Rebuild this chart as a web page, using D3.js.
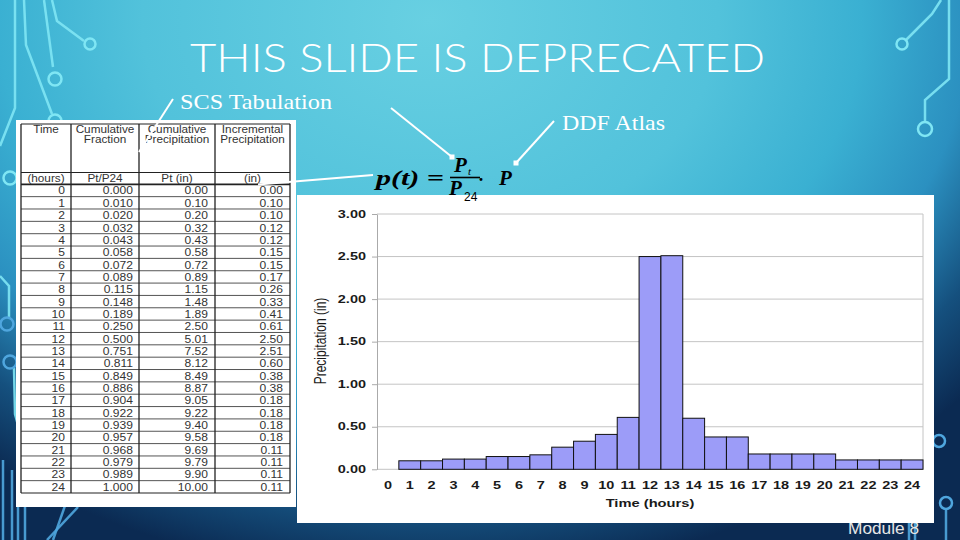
<!DOCTYPE html>
<html>
<head>
<meta charset="utf-8">
<script src="https://cdn.jsdelivr.net/npm/d3@7"></script>
<style>
body { margin: 0; background: #0b2a52; }
svg { display: block; font-family: "Liberation Sans", Arial, sans-serif; }
</style>
</head>
<body>
<div id="slide"></div>
<script>
// SCS type II tabulation, 24 hour storm
const hours = [0, 1, 2, 3, 4, 5, 6, 7, 8, 9, 10, 11, 12, 13, 14, 15, 16, 17, 18, 19, 20, 21, 22, 23, 24];
const cumFraction = [0.000, 0.010, 0.020, 0.032, 0.043, 0.058, 0.072, 0.089, 0.115, 0.148, 0.189, 0.250, 0.500,
    0.751, 0.811, 0.849, 0.886, 0.904, 0.922, 0.939, 0.957, 0.968, 0.979, 0.989, 1.000];
const cumPrecip = [0.00, 0.10, 0.20, 0.32, 0.43, 0.58, 0.72, 0.89, 1.15, 1.48, 1.89, 2.50, 5.01,
    7.52, 8.12, 8.49, 8.87, 9.05, 9.22, 9.40, 9.58, 9.69, 9.79, 9.90, 10.00];
const incPrecip = [0.00, 0.10, 0.10, 0.12, 0.12, 0.15, 0.15, 0.17, 0.26, 0.33, 0.41, 0.61, 2.50,
    2.51, 0.60, 0.38, 0.38, 0.18, 0.18, 0.18, 0.18, 0.11, 0.11, 0.11, 0.11];
const yTicks = [0.00, 0.50, 1.00, 1.50, 2.00, 2.50, 3.00];

const headerTop = [["Time"], ["Cumulative", "Fraction"], ["Cumulative", "Precipitation"], ["Incremental", "Precipitation"]];
const headerUnits = ["(hours)", "Pt/P24", "Pt (in)", "(in)"];

const width = 960, height = 540;
const serif = "'Liberation Serif', 'Times New Roman', serif";

const svg = d3.select("#slide").append("svg")
    .attr("width", width)
    .attr("height", height);

// ---- background ----
const defs = svg.append("defs");
const grad = defs.append("radialGradient")
    .attr("id", "bg")
    .attr("gradientUnits", "userSpaceOnUse")
    .attr("cx", 0).attr("cy", 0).attr("r", 1)
    .attr("gradientTransform", "translate(430,20) scale(720,560)");
[[0, "#68d0e2"], [0.4, "#52c2db"], [0.6, "#3ab0d2"], [0.75, "#2b90c0"], [0.88, "#15507e"], [1, "#0b2a52"]]
    .forEach(s => grad.append("stop").attr("offset", s[0]).attr("stop-color", s[1]));

svg.append("rect").attr("width", width).attr("height", height).attr("fill", "url(#bg)");

// circuit decoration
const deco = svg.append("g").attr("fill", "none").attr("stroke-width", 2.5);
const lightLines = [
    [[52, 0], [57, 21], [84, 41]],
    [[44, 0], [53, 67]],
    [[24, 0], [26, 45], [52, 114]],
    [[15, 0], [15, 108], [0, 146]],
    [[0, 276], [9, 286], [9, 318]],
    [[14, 368], [15, 414], [22, 440], [22, 470]],
    [[941, 0], [932, 14], [906, 40]],
    [[949, 0], [949, 79], [925, 100], [925, 122]]
];
const lightCircles = [[90, 44, 5.5], [55, 79, 6.5], [55, 121, 6.5], [10, 178, 6.5], [7, 324, 6.5], [10, 362, 6.5],
    [902, 44, 5.5], [925, 129, 7], [939, 441, 6], [946, 503, 6]];
const darkLines = [
    [[3, 460], [3, 540]], [[12, 470], [12, 540]], [[18, 480], [18, 540]], [[25, 470], [25, 540]],
    [[78, 507], [47, 540]], [[67, 500], [53, 540]],
    [[946, 509], [946, 540]], [[909, 505], [909, 540]], [[915, 505], [915, 540]]
];
const lineGen = d3.line();
deco.selectAll(".lt").data(lightLines).enter().append("path")
    .attr("d", lineGen).attr("stroke", "#7fe6f4").attr("stroke-opacity", 0.9);
deco.selectAll(".dk").data(darkLines).enter().append("path")
    .attr("d", lineGen).attr("stroke", "#4fa6de").attr("stroke-opacity", 0.9);
deco.selectAll("circle").data(lightCircles).enter().append("circle")
    .attr("cx", d => d[0]).attr("cy", d => d[1]).attr("r", d => d[2])
    .attr("stroke", d => d[1] > 300 ? "#4fa6de" : "#7fe6f4");

// helper for the horizontally stretched (resized bitmap) text
function addText(g, x, y, str, o) {
    return g.append("text")
        .attr("transform", `translate(${x},${y}) scale(${o.sx || 1},1)`)
        .attr("text-anchor", o.anchor || "start")
        .attr("font-size", o.size)
        .attr("font-weight", o.weight || "normal")
        .attr("font-style", o.style || "normal")
        .attr("font-family", o.family || null)
        .attr("fill", o.fill || "#222")
        .text(str);
}

// ---- title and captions ----
svg.append("text")
    .attr("x", 190).attr("y", 72)
    .attr("textLength", 575).attr("lengthAdjust", "spacingAndGlyphs")
    .attr("font-family", "Lato, 'Open Sans', sans-serif")
    .attr("font-weight", 300)
    .attr("font-size", 40)
    .attr("fill", "#fff")
    .text("THIS SLIDE IS DEPRECATED");

svg.append("text")
    .attr("x", 180).attr("y", 109)
    .attr("textLength", 152).attr("lengthAdjust", "spacingAndGlyphs")
    .attr("font-family", serif)
    .attr("font-size", 21).attr("fill", "#fff")
    .text("SCS Tabulation");

svg.append("text")
    .attr("x", 562).attr("y", 130)
    .attr("textLength", 103).attr("lengthAdjust", "spacingAndGlyphs")
    .attr("font-family", serif)
    .attr("font-size", 21).attr("fill", "#fff")
    .text("DDF Atlas");

// "Module 8" footer, mostly hidden by the chart panel
addText(svg, 848, 534, "Module 8", {size: 16, sx: 1.08, fill: "#e6e6e6"});

// ---- table ----
const table = svg.append("g");
table.append("rect").attr("x", 16).attr("y", 120).attr("width", 280).attr("height", 387).attr("fill", "#fff");

const colEdges = [21, 71, 139, 215, 290];
const rowY = d3.scaleBand().domain(hours).range([184.3, 493]);

table.selectAll(".rowline").data(hours.slice(1)).enter().append("line")
    .attr("x1", colEdges[0]).attr("x2", colEdges[4])
    .attr("y1", d => rowY(d)).attr("y2", d => rowY(d))
    .attr("stroke", "#555").attr("stroke-width", 1);
[124, 172.5, 184.3, 493].forEach((y, i) => {
    table.append("line")
        .attr("x1", colEdges[0]).attr("x2", colEdges[4])
        .attr("y1", y).attr("y2", y)
        .attr("stroke", "#222").attr("stroke-width", i === 2 ? 1.8 : 1.2);
});
table.selectAll(".colline").data(colEdges).enter().append("line")
    .attr("x1", d => d).attr("x2", d => d)
    .attr("y1", 124).attr("y2", 493)
    .attr("stroke", "#222").attr("stroke-width", 1.3);

const tFont = {size: 10.5, sx: 1.12, fill: "#333", anchor: "middle"};
headerTop.forEach((lines, c) => {
    const cx = (colEdges[c] + colEdges[c + 1]) / 2;
    lines.forEach((s, k) => addText(table, cx, 133 + k * 10, s, tFont));
    addText(table, cx, 182, headerUnits[c], tFont);
});

const cols = [
    {vals: hours, fmt: d3.format("d"), right: 65},
    {vals: cumFraction, fmt: d3.format(".3f"), right: 133},
    {vals: cumPrecip, fmt: d3.format(".2f"), right: 208},
    {vals: incPrecip, fmt: d3.format(".2f"), right: 283}
];
cols.forEach(col => {
    col.vals.forEach((v, i) => {
        addText(table, col.right, rowY(hours[i]) + rowY.bandwidth() / 2 + 4, col.fmt(v),
            {size: 10.5, sx: 1.15, fill: "#333", anchor: "end"});
    });
});

// ---- chart panel ----
const panel = svg.append("g");
panel.append("rect").attr("x", 297).attr("y", 195).attr("width", 637).attr("height", 328).attr("fill", "#fff");

const x = d3.scaleBand().domain(hours).range([377, 923]).padding(0);
const y = d3.scaleLinear().domain([0, 3]).range([469.3, 214]);

panel.selectAll(".grid").data(yTicks).enter().append("line")
    .attr("x1", 377).attr("x2", 923)
    .attr("y1", d => y(d)).attr("y2", d => y(d))
    .attr("stroke", "#c4c4c4").attr("stroke-width", 1);
panel.append("line")
    .attr("x1", 923).attr("x2", 923).attr("y1", y(3)).attr("y2", y(0))
    .attr("stroke", "#c4c4c4");

panel.selectAll(".bar").data(hours.filter((h, i) => incPrecip[i] > 0)).enter().append("rect")
    .attr("x", h => x(h))
    .attr("y", h => y(incPrecip[h]))
    .attr("width", x.bandwidth())
    .attr("height", h => y(0) - y(incPrecip[h]))
    .attr("fill", "#9c9cf8")
    .attr("stroke", "#111")
    .attr("stroke-width", 1);

const yAxis = panel.append("g")
    .attr("transform", "translate(377,0)")
    .call(d3.axisLeft(y).tickValues(yTicks).tickFormat(d3.format(".2f")).tickSize(5).tickSizeOuter(0));
yAxis.select(".domain").attr("stroke", "#aaa");
yAxis.selectAll(".tick line").attr("stroke", "#aaa");
yAxis.selectAll(".tick text")
    .attr("x", -11 / 1.45)
    .attr("transform", "scale(1.45,1)")
    .attr("font-size", 10).attr("font-weight", "bold").attr("fill", "#1a1a1a")
    .attr("font-family", "'Liberation Sans', Arial, sans-serif");

const xAxis = panel.append("g")
    .attr("transform", `translate(0,${y(0)})`)
    .call(d3.axisBottom(x).tickSize(0).tickPadding(12.5));
xAxis.select(".domain").remove();
xAxis.selectAll(".tick text")
    .attr("transform", "scale(1.45,1)")
    .attr("font-size", 10).attr("font-weight", "bold").attr("fill", "#1a1a1a")
    .attr("font-family", "'Liberation Sans', Arial, sans-serif");

addText(panel, 650, 507, "Time (hours)", {size: 10, sx: 1.47, weight: "bold", anchor: "middle", fill: "#1a1a1a"});

panel.append("text")
    .attr("transform", "translate(326,341) rotate(-90) scale(1,1.3)")
    .attr("text-anchor", "middle")
    .attr("font-size", 12)
    .attr("fill", "#1a1a1a")
    .text("Precipitation (in)");

// ---- formula (sits over the top edge of the chart panel) ----
const fm = svg.append("g").attr("fill", "#000");
fm.append("text").attr("x", 376).attr("y", 185)
    .attr("textLength", 68).attr("lengthAdjust", "spacingAndGlyphs")
    .attr("font-family", serif).attr("font-style", "italic").attr("font-weight", "bold")
    .attr("font-size", 22).text("p(t) =");
fm.append("line").attr("x1", 450).attr("x2", 480).attr("y1", 177.5).attr("y2", 177.5)
    .attr("stroke", "#000").attr("stroke-width", 1.6);
addText(fm, 454, 172, "P", {size: 21, family: serif, style: "italic", weight: "bold", fill: "#000"});
addText(fm, 468, 175, "t", {size: 11, family: serif, style: "italic", fill: "#000"});
addText(fm, 449, 195, "P", {size: 21, family: serif, style: "italic", weight: "bold", fill: "#000"});
addText(fm, 464, 201, "24", {size: 12, fill: "#000"});
addText(fm, 478, 186, "·", {size: 18, family: serif, weight: "bold", fill: "#000"});
addText(fm, 499, 185, "P", {size: 21, family: serif, style: "italic", weight: "bold", fill: "#000"});

// ---- pointer lines ----
const pointers = [
    {from: [173, 99], to: [139, 152], dot: false},
    {from: [373, 175], to: [258, 184.5], dot: false},
    {from: [391, 108], to: [452, 157], dot: true},
    {from: [554, 121], to: [516, 163], dot: true}
];
const ptr = svg.append("g");
ptr.selectAll("line").data(pointers).enter().append("line")
    .attr("x1", d => d.from[0]).attr("y1", d => d.from[1])
    .attr("x2", d => d.to[0]).attr("y2", d => d.to[1])
    .attr("stroke", "#fff").attr("stroke-width", 2);
ptr.selectAll("rect").data(pointers.filter(d => d.dot)).enter().append("rect")
    .attr("x", d => d.to[0] - 2.5).attr("y", d => d.to[1] - 2.5)
    .attr("width", 5).attr("height", 5).attr("fill", "#fff");
</script>
</body>
</html>
